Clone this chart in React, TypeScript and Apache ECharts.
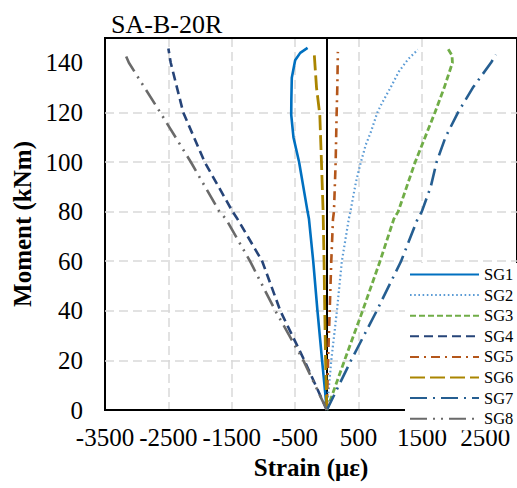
import React, { useEffect, useRef } from "react";
import * as echarts from "echarts";

const seriesNames = ["SG1", "SG2", "SG3", "SG4", "SG5", "SG6", "SG7", "SG8"];

const sg1: [number, number][] = [[0, 0], [-75, 20], [-148, 40], [-215, 60], [-282, 77], [-304, 80], [-438, 100], [-527, 110], [-562, 119], [-560, 125], [-553, 134], [-500, 141], [-420, 144], [-304, 146]];
const sg2: [number, number][] = [[0, 0], [70, 20], [159, 40], [237, 60], [346, 77], [372, 80], [408, 85], [460, 92], [537, 100], [615, 107], [693, 112], [797, 120], [875, 124], [1005, 130], [1135, 136.4], [1280, 141.4], [1436, 145.3]];
const sg3: [number, number][] = [[0, 0], [279, 20], [564, 40], [839, 60], [1057, 77], [1125, 80], [1394, 100], [1706, 120], [1852, 130], [1981, 140], [1975, 143], [1914, 145.5]];
const sg4: [number, number][] = [[0, 0], [-355, 20], [-734, 40], [-1020, 60], [-1410, 77], [-1487, 80], [-1928, 100], [-2266, 120], [-2463, 140], [-2500, 145.8]];
const sg5: [number, number][] = [[0, 0], [19, 20], [45, 40], [70, 60], [97, 77], [112, 80], [139, 100], [154, 119], [165, 130], [174, 144.4]];
const sg6: [number, number][] = [[0, 0], [-20, 20], [-33, 40], [-44, 60], [-59, 80], [-85, 100], [-111, 119], [-163, 130], [-200, 144]];
const sg7: [number, number][] = [[0, 0], [382, 20], [787, 40], [1171, 60], [1431, 77], [1498, 80], [1639, 90], [1732, 100], [1872, 110], [2070, 120], [2304, 130], [2589, 140], [2667, 143.3]];
const sg8: [number, number][] = [[0, 0], [-371, 20], [-812, 40], [-1212, 60], [-1590, 77], [-1695, 80], [-2146, 100], [-2629, 120], [-3123, 140], [-3174, 143]];

const xTicks = [-3500, -2500, -1500, -500, 500, 1500, 2500];
const yTicks = [0, 20, 40, 60, 80, 100, 120, 140];
const X_MIN = -3500;
const X_MAX = 3000;
const Y_MAX = 150;

const seriesData = [sg1, sg2, sg3, sg4, sg5, sg6, sg7, sg8];
const colors = ["#0070C0", "#5B9BD5", "#70AD47", "#264478", "#B4561A", "#AA8500", "#255E91", "#6A6A6A"];
const dashes: (string | number[])[] = [
  "solid",
  [1.6, 2.6],
  [6, 3],
  [9, 5],
  [9, 5, 2, 5],
  [15, 5],
  [17, 6, 2, 6],
  [17, 6, 2, 6, 2, 6],
];
const widths = [2.6, 2.2, 2.8, 2.6, 2.6, 2.8, 2.6, 2.6];

const FONT = "'Liberation Serif', 'Times New Roman', serif";

export default function App() {
  const ref = useRef<HTMLDivElement>(null);
  useEffect(() => {
    document.body.style.margin = "0";
    document.body.style.overflow = "hidden";
    const chart = echarts.init(ref.current!, undefined, { renderer: "svg" });
    const series: any[] = seriesNames.map((name, i) => ({
      name,
      type: "line",
      data: seriesData[i],
      symbol: "none",
      showSymbol: false,
      smooth: false,
      clip: false,
      lineStyle: { color: colors[i], width: widths[i], type: dashes[i], cap: "butt" },
      itemStyle: { color: colors[i] },
      z: 3,
    }));
    series[0].markLine = {
      silent: true,
      symbol: "none",
      label: { show: false },
      lineStyle: { color: "#000", width: 2, type: "solid" },
      data: [{ xAxis: 0 }, { yAxis: Y_MAX }],
      z: 2,
    };
    const labelFont = { fontFamily: FONT, fontSize: 25, color: "#000" };
    const splitStyle = { color: "#D9D9D9", width: 1.5, type: [9, 5] };
    chart.setOption({
      animation: false,
      title: {
        text: "SA-B-20R",
        left: 106,
        top: 6,
        textStyle: { fontFamily: FONT, fontSize: 26, fontWeight: "normal", color: "#000" },
      },
      grid: {
        left: 105,
        top: 38,
        right: -4,
        bottom: 78,
        show: true,
        borderColor: "#000",
        borderWidth: 2,
        containLabel: false,
      },
      legend: {
        orient: "vertical",
        left: 405,
        top: 263,
        padding: [3, 4, 3, 4],
        backgroundColor: "#fff",
        itemWidth: 69,
        itemHeight: 14,
        itemGap: 3.6,
        itemTextGap: 5,
        itemStyle: { opacity: 0 },
        data: seriesNames,
        textStyle: { fontFamily: FONT, fontSize: 16.5, color: "#000" },
      },
      xAxis: {
        type: "value",
        min: X_MIN,
        max: X_MAX,
        interval: 1000,
        name: "Strain (με)",
        nameLocation: "middle",
        nameGap: 42,
        nameTextStyle: { fontFamily: FONT, fontSize: 25, fontWeight: "bold", color: "#000" },
        axisLine: { show: true, onZero: false, lineStyle: { color: "#000", width: 2 } },
        axisTick: { show: false, customValues: xTicks },
        axisLabel: {
          ...labelFont,
          margin: 15,
          hideOverlap: false,
          customValues: xTicks,
          formatter: (v: number) => String(v),
        },
        splitLine: { show: true, showMinLine: false, showMaxLine: false, lineStyle: splitStyle },
      },
      yAxis: {
        type: "value",
        min: 0,
        max: Y_MAX,
        interval: 20,
        name: "Moment (kNm)",
        nameLocation: "middle",
        nameGap: 66,
        nameTextStyle: { fontFamily: FONT, fontSize: 25, fontWeight: "bold", color: "#000" },
        axisLine: { show: true, lineStyle: { color: "#000", width: 2 } },
        axisTick: { show: false, customValues: yTicks },
        axisLabel: {
          ...labelFont,
          margin: 22,
          customValues: yTicks,
          formatter: (v: number) => String(v),
        },
        splitLine: { show: true, showMinLine: false, showMaxLine: false, lineStyle: splitStyle },
      },
      series,
    });
    return () => chart.dispose();
  }, []);
  return <div ref={ref} style={{ width: 517, height: 488 }} />;
}
